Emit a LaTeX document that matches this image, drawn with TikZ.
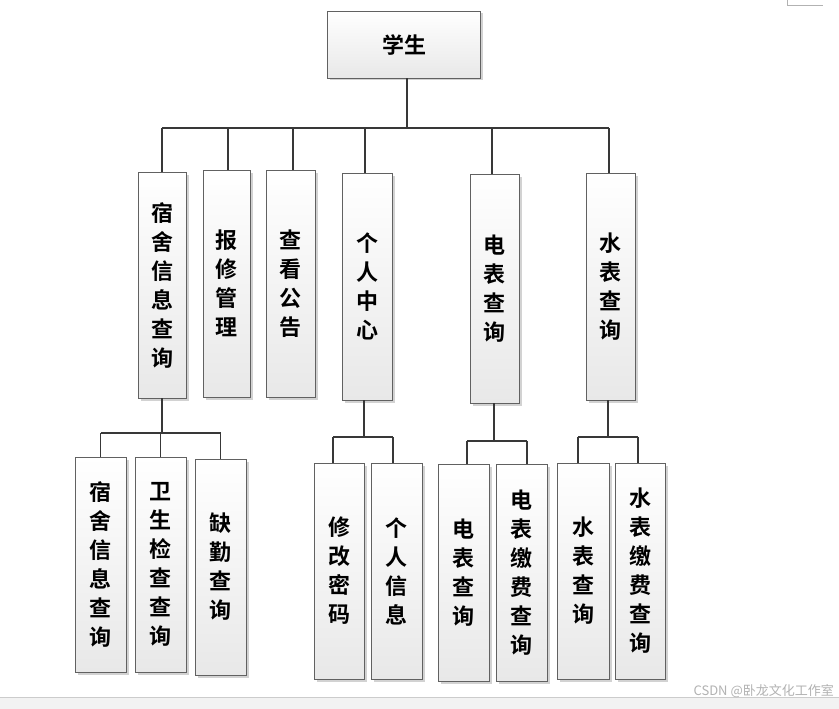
\documentclass[tikz,border=0pt]{standalone}
\usepackage{fontspec}
\newfontfamily\cjk{Noto Sans CJK SC}[BoldFont={* Bold}]
\usetikzlibrary{shadows}
\begin{document}
\begin{tikzpicture}[x=1pt,y=-1pt,
  box/.style={draw=black!62, line width=0.9pt, top color=white, bottom color=black!9,
    drop shadow={shadow xshift=2.5pt, shadow yshift=-2.5pt, fill=black!22, opacity=0.8},
    align=center, inner sep=0pt, font=\cjk\bfseries\fontsize{22}{29}\selectfont, text=black},
  conn/.style={draw=black!78, line width=1.7pt}]
\useasboundingbox (0,0) rectangle (839,709);
\fill[white] (0,0) rectangle (839,709);
% page corner mark
\draw[black!30, line width=0.8pt] (787,0) -- (787,5) -- (823,5);
% root
\node[box, minimum width=153pt, minimum height=67pt] (root) at (404,44.5) {学生};
% level 1
\node[box, minimum width=48pt, minimum height=226pt] (a1) at (162,285) {宿\\舍\\信\\息\\查\\询};
\node[box, minimum width=47pt, minimum height=227pt] (a2) at (226.5,283.5) {报\\修\\管\\理};
\node[box, minimum width=49pt, minimum height=227pt] (a3) at (290.5,283.5) {查\\看\\公\\告};
\node[box, minimum width=50pt, minimum height=227pt] (a4) at (367,286.5) {个\\人\\中\\心};
\node[box, minimum width=49pt, minimum height=229pt] (a5) at (494.5,288.5) {电\\表\\查\\询};
\node[box, minimum width=49pt, minimum height=227pt] (a6) at (610.5,286.5) {水\\表\\查\\询};
% level 2
\node[box, minimum width=51pt, minimum height=215pt] (b1) at (100.5,564.5) {宿\\舍\\信\\息\\查\\询};
\node[box, minimum width=51pt, minimum height=215pt] (b2) at (160.5,564.5) {卫\\生\\检\\查\\查\\询};
\node[box, minimum width=51pt, minimum height=216pt] (b3) at (220.5,567) {缺\\勤\\查\\询};
\node[box, minimum width=50pt, minimum height=216pt] (c1) at (339,571) {修\\改\\密\\码};
\node[box, minimum width=51pt, minimum height=216pt] (c2) at (396.5,571) {个\\人\\信\\息};
\node[box, minimum width=51pt, minimum height=217pt] (d1) at (463.5,572.5) {电\\表\\查\\询};
\node[box, minimum width=51pt, minimum height=217pt] (d2) at (521.5,572.5) {电\\表\\缴\\费\\查\\询};
\node[box, minimum width=52pt, minimum height=216pt] (e1) at (583,571) {水\\表\\查\\询};
\node[box, minimum width=50pt, minimum height=216pt] (e2) at (640,571) {水\\表\\缴\\费\\查\\询};
% buses
\coordinate (bus0) at (407,128);
\coordinate (bus1) at (162,433);
\coordinate (bus2) at (364,437);
\coordinate (bus3) at (494,441);
\coordinate (bus4) at (608,437);
% root connectors
\draw[conn] ([xshift=3pt]root.south) -- (bus0);
\draw[conn] (a1.north |- bus0) -- ([xshift=-1.5pt]a6.north |- bus0);
\draw[conn] (a1.north) -- (a1.north |- bus0);
\draw[conn] ([xshift=1.5pt]a2.north) -- ([xshift=1.5pt]a2.north |- bus0);
\draw[conn] ([xshift=2.5pt]a3.north) -- ([xshift=2.5pt]a3.north |- bus0);
\draw[conn] ([xshift=-2pt]a4.north) -- ([xshift=-2pt]a4.north |- bus0);
\draw[conn] ([xshift=-2.5pt]a5.north) -- ([xshift=-2.5pt]a5.north |- bus0);
\draw[conn] ([xshift=-1.5pt]a6.north) -- ([xshift=-1.5pt]a6.north |- bus0);
% sub-tree: dorm
\draw[conn] (a1.south) -- (bus1);
\draw[conn] (b1.north |- bus1) -- (b3.north |- bus1);
\foreach \n in {b1,b2,b3} \draw[conn] (\n.north) -- (\n.north |- bus1);
% sub-tree: personal
\draw[conn] (a4.south -| bus2) -- (bus2);
\draw[conn] ([xshift=-6pt]c1.north |- bus2) -- ([xshift=-3.5pt]c2.north |- bus2);
\draw[conn] ([xshift=-6pt]c1.north) -- ([xshift=-6pt]c1.north |- bus2);
\draw[conn] ([xshift=-3.5pt]c2.north) -- ([xshift=-3.5pt]c2.north |- bus2);
% sub-tree: electricity
\draw[conn] (a5.south -| bus3) -- (bus3);
\draw[conn] ([xshift=3.5pt]d1.north |- bus3) -- ([xshift=5.5pt]d2.north |- bus3);
\draw[conn] ([xshift=3.5pt]d1.north) -- ([xshift=3.5pt]d1.north |- bus3);
\draw[conn] ([xshift=5.5pt]d2.north) -- ([xshift=5.5pt]d2.north |- bus3);
% sub-tree: water
\draw[conn] (a6.south -| bus4) -- (bus4);
\draw[conn] ([xshift=-5pt]e1.north |- bus4) -- ([xshift=-2pt]e2.north |- bus4);
\draw[conn] ([xshift=-5pt]e1.north) -- ([xshift=-5pt]e1.north |- bus4);
\draw[conn] ([xshift=-2pt]e2.north) -- ([xshift=-2pt]e2.north |- bus4);
% bottom toolbar strip
\fill[black!5] (0,697) rectangle (839,709);
\draw[black!20, line width=0.6pt] (0,697) -- (839,697);
\node[anchor=east, text=black!30, font=\cjk\fontsize{13}{14}\selectfont, inner sep=0pt] (wm) at (834,691) {CSDN @卧龙文化工作室};
\end{tikzpicture}
\end{document}
